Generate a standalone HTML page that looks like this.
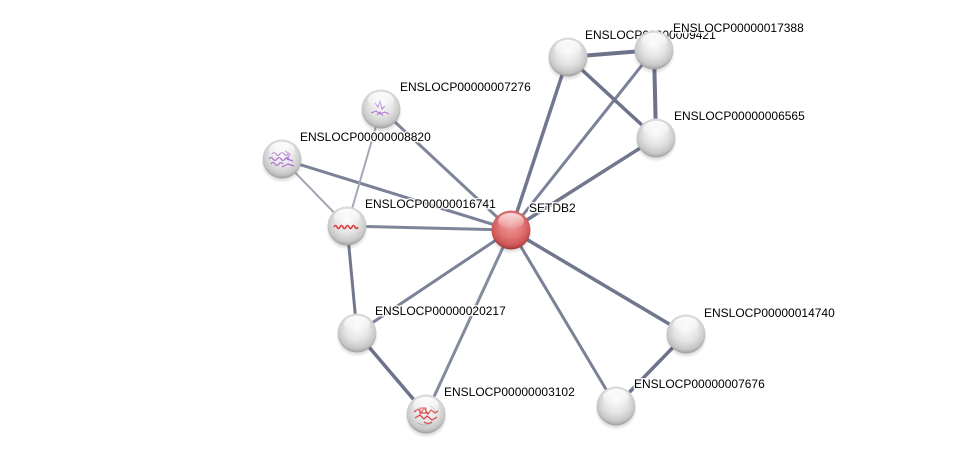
<!DOCTYPE html>
<html><head><meta charset="utf-8"><style>
html,body{margin:0;padding:0;background:#fff;}
svg{display:block;}
text{font-family:"Liberation Sans",Arial,sans-serif;font-size:12px;fill:#000;paint-order:stroke;stroke:rgba(255,255,255,0.85);stroke-width:3px;stroke-linejoin:round;}
</style></head><body>
<svg width="975" height="459" viewBox="0 0 975 459" xmlns="http://www.w3.org/2000/svg">
<defs>
<radialGradient id="g" cx="50%" cy="42%" r="62%" fx="50%" fy="35%">
<stop offset="0" stop-color="#fbfbfb"/>
<stop offset="0.5" stop-color="#e4e4e4"/>
<stop offset="0.8" stop-color="#c6c6c6"/>
<stop offset="1" stop-color="#8e8e8e"/>
</radialGradient>
<radialGradient id="r" cx="50%" cy="42%" r="62%" fx="50%" fy="35%">
<stop offset="0" stop-color="#f29a9a"/>
<stop offset="0.5" stop-color="#e27676"/>
<stop offset="0.8" stop-color="#cc5454"/>
<stop offset="1" stop-color="#8a2a2a"/>
</radialGradient>
<linearGradient id="h" x1="0" y1="0" x2="0" y2="1">
<stop offset="0" stop-color="#fff" stop-opacity="0.95"/>
<stop offset="1" stop-color="#fff" stop-opacity="0.05"/>
</linearGradient>
<radialGradient id="sh" cx="50%" cy="50%" r="50%">
<stop offset="0.7" stop-color="#000" stop-opacity="0.2"/>
<stop offset="1" stop-color="#000" stop-opacity="0"/>
</radialGradient>
</defs>
<g stroke-linecap="round" fill="none">
<line x1="511" y1="230" x2="568" y2="57" stroke="#71788e" stroke-width="3.5"/>
<line x1="511" y1="230" x2="654" y2="50" stroke="#7b8297" stroke-width="3"/>
<line x1="511" y1="230" x2="656" y2="138" stroke="#71788e" stroke-width="3.5"/>
<line x1="511" y1="230" x2="381" y2="109" stroke="#7f869a" stroke-width="3"/>
<line x1="511" y1="230" x2="282" y2="159" stroke="#7b8297" stroke-width="3"/>
<line x1="511" y1="230" x2="347" y2="226" stroke="#7f869a" stroke-width="3"/>
<line x1="511" y1="230" x2="357" y2="333" stroke="#7b8297" stroke-width="3"/>
<line x1="511" y1="230" x2="426" y2="414" stroke="#848b9f" stroke-width="3"/>
<line x1="511" y1="230" x2="686" y2="334" stroke="#71788e" stroke-width="3.5"/>
<line x1="511" y1="230" x2="616" y2="406" stroke="#7b8297" stroke-width="3"/>
<line x1="568" y1="57" x2="654" y2="50" stroke="#6c738a" stroke-width="4"/>
<line x1="568" y1="57" x2="656" y2="138" stroke="#6c738a" stroke-width="3.5"/>
<line x1="654" y1="50" x2="656" y2="138" stroke="#6c738a" stroke-width="4"/>
<line x1="282" y1="159" x2="347" y2="226" stroke="#a2a8b8" stroke-width="2"/>
<line x1="381" y1="109" x2="347" y2="226" stroke="#a2a8b8" stroke-width="2"/>
<line x1="347" y1="226" x2="357" y2="333" stroke="#71788e" stroke-width="3"/>
<line x1="357" y1="333" x2="426" y2="414" stroke="#6c738a" stroke-width="3.5"/>
<line x1="686" y1="334" x2="616" y2="406" stroke="#6c738a" stroke-width="3.5"/>
</g>
<text x="529" y="212">SETDB2</text>
<text x="585" y="39">ENSLOCP00000009421</text>
<text x="673" y="32">ENSLOCP00000017388</text>
<text x="674" y="120">ENSLOCP00000006565</text>
<text x="400" y="91">ENSLOCP00000007276</text>
<text x="300" y="141">ENSLOCP00000008820</text>
<text x="365" y="208">ENSLOCP00000016741</text>
<text x="375" y="315">ENSLOCP00000020217</text>
<text x="444" y="396">ENSLOCP00000003102</text>
<text x="704" y="317">ENSLOCP00000014740</text>
<text x="634" y="388">ENSLOCP00000007676</text>
<g id="nodes">
<g transform="translate(568,57)"><ellipse cx="0" cy="4" rx="21" ry="20" fill="url(#sh)"/><circle r="19.5" fill="url(#g)"/><ellipse cx="0" cy="-9" rx="13" ry="8" fill="url(#h)"/></g>
<g transform="translate(654,50)"><ellipse cx="0" cy="4" rx="21" ry="20" fill="url(#sh)"/><circle r="19.5" fill="url(#g)"/><ellipse cx="0" cy="-9" rx="13" ry="8" fill="url(#h)"/></g>
<g transform="translate(656,138)"><ellipse cx="0" cy="4" rx="21" ry="20" fill="url(#sh)"/><circle r="19.5" fill="url(#g)"/><ellipse cx="0" cy="-9" rx="13" ry="8" fill="url(#h)"/></g>
<g transform="translate(381,109)"><ellipse cx="0" cy="4" rx="21" ry="20" fill="url(#sh)"/><circle r="19.5" fill="url(#g)"/>
<path d="M-6,-6 l3,4 l2,-6 l2,8 l3,-3 M-10,4 l5,-2 l4,3 l5,-2 l4,2 M-4,6 l3,-3 l3,4" stroke="#b07ad0" stroke-width="1" fill="none"/>
<ellipse cx="0" cy="-9" rx="13" ry="8" fill="url(#h)"/></g>
<g transform="translate(282,159)"><ellipse cx="0" cy="4" rx="21" ry="20" fill="url(#sh)"/><circle r="19.5" fill="url(#g)"/>
<path d="M-13,0 q2,-3 4,0 t4,0 t4,0 t4,0 t4,0 M-10,-5 q2,-3 4,0 t4,0 t4,0 t4,0 M-11,5 q2,-3 4,0 t4,0 t4,0 M3,-8 l5,3 l-3,5 l6,2 M0,8 l6,-3 l6,2" stroke="#b070d0" stroke-width="1.2" fill="none"/>
<ellipse cx="0" cy="-9" rx="13" ry="8" fill="url(#h)"/></g>
<g transform="translate(347,226)"><ellipse cx="0" cy="4" rx="21" ry="20" fill="url(#sh)"/><circle r="19.5" fill="url(#g)"/>
<path d="M-13,1 q1.5,-3 3,0 t3,0 t3,0 t3,0 t3,0 t3,0 t3,0 t3,0" stroke="#e04040" stroke-width="1.6" fill="none"/>
<ellipse cx="0" cy="-9" rx="13" ry="8" fill="url(#h)"/></g>
<g transform="translate(357,333)"><ellipse cx="0" cy="4" rx="21" ry="20" fill="url(#sh)"/><circle r="19.5" fill="url(#g)"/><ellipse cx="0" cy="-9" rx="13" ry="8" fill="url(#h)"/></g>
<g transform="translate(426,414)"><ellipse cx="0" cy="4" rx="21" ry="20" fill="url(#sh)"/><circle r="19.5" fill="url(#g)"/>
<path d="M-12,-2 l4,-3 l3,4 l3,-5 l4,6 l3,-4 l4,3 l3,-2 M-11,4 l5,-3 l4,4 l3,-3 l5,4 l5,-3 M-6,-6 h6 v5 h-6 z M-2,8 q4,3 8,0" stroke="#d84848" stroke-width="1.3" fill="none"/>
<path d="M-8,9 q6,4 14,0 M4,-8 q5,2 6,8" stroke="#b0b0b0" stroke-width="0.8" fill="none"/>
<ellipse cx="0" cy="-9" rx="13" ry="8" fill="url(#h)"/></g>
<g transform="translate(686,334)"><ellipse cx="0" cy="4" rx="21" ry="20" fill="url(#sh)"/><circle r="19.5" fill="url(#g)"/><ellipse cx="0" cy="-9" rx="13" ry="8" fill="url(#h)"/></g>
<g transform="translate(616,406)"><ellipse cx="0" cy="4" rx="21" ry="20" fill="url(#sh)"/><circle r="19.5" fill="url(#g)"/><ellipse cx="0" cy="-9" rx="13" ry="8" fill="url(#h)"/></g>
<g transform="translate(511,230)"><ellipse cx="0" cy="4" rx="21" ry="20" fill="url(#sh)"/><circle r="19.5" fill="url(#r)"/><ellipse cx="0" cy="-9" rx="13" ry="8" fill="url(#h)" opacity="0.8"/></g>
</g>
</svg>
</body></html>
